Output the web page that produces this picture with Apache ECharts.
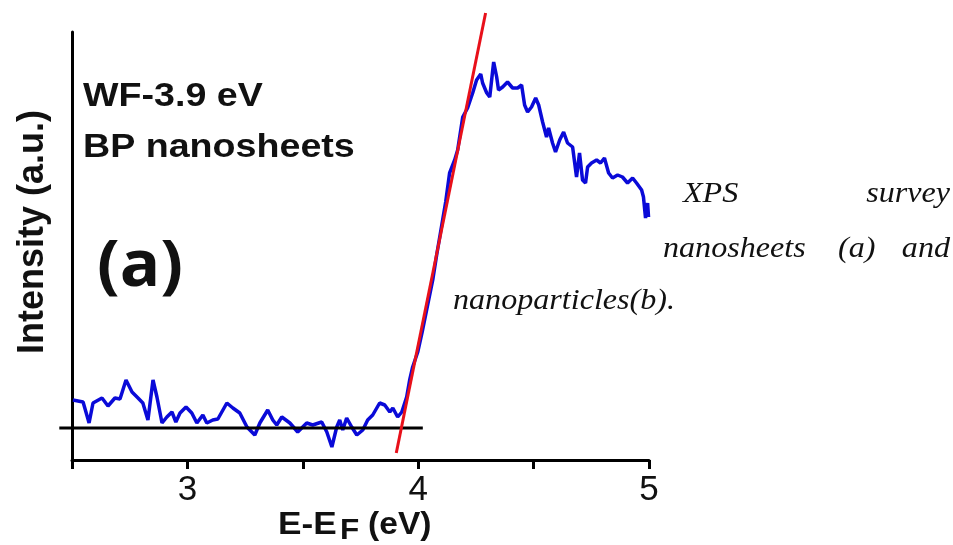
<!DOCTYPE html>
<html>
<head>
<meta charset="utf-8">
<script src="https://cdn.jsdelivr.net/npm/echarts@6/dist/echarts.min.js"></script>
<style>
  html, body { margin: 0; padding: 0; background: #fff; }
  #chart { width: 953px; height: 545px; }
</style>
</head>
<body>
<div id="chart"></div>
<script>
// UPS secondary-edge spectrum of BP nanosheets (E - E_F in eV, intensity in a.u.)
const energy = [
  2.504, 2.548, 2.574, 2.591, 2.630, 2.656, 2.686, 2.708, 2.734, 2.760,
  2.786, 2.807, 2.829, 2.851, 2.868, 2.890, 2.911, 2.933, 2.950, 2.968,
  2.994, 3.019, 3.041, 3.067, 3.084, 3.110, 3.132, 3.171, 3.197, 3.227,
  3.258, 3.292, 3.314, 3.348, 3.370, 3.387, 3.409, 3.444, 3.478, 3.517,
  3.543, 3.582, 3.604, 3.626, 3.647, 3.660, 3.673, 3.690, 3.712, 3.734,
  3.760, 3.781, 3.803, 3.833, 3.855, 3.877, 3.890, 3.911, 3.929, 3.950,
  3.963, 3.976, 3.998, 4.019, 4.041, 4.063, 4.080, 4.097, 4.119, 4.136,
  4.158, 4.171, 4.193, 4.214, 4.236, 4.253, 4.271, 4.279, 4.297, 4.310,
  4.323, 4.327, 4.340, 4.348, 4.366, 4.387, 4.409, 4.431, 4.448, 4.461,
  4.474, 4.491, 4.509, 4.522, 4.539, 4.556, 4.565, 4.582, 4.595, 4.613,
  4.630, 4.647, 4.669, 4.686, 4.699, 4.712, 4.725, 4.734, 4.751, 4.773,
  4.790, 4.807, 4.825, 4.842, 4.864, 4.885, 4.907, 4.929, 4.946, 4.968,
  4.976, 4.985, 4.994, 4.998
];
const intensity = [
  60, 58, 37, 57, 62, 54, 62, 61, 80, 68,
  62, 57, 40, 80, 63, 37, 43, 48, 38, 47,
  53, 47, 37, 45, 37, 40, 41, 57, 52, 47,
  33, 25, 37, 50, 40, 35, 43, 37, 28, 37,
  35, 38, 28, 13, 33, 40, 30, 42, 33, 25,
  30, 40, 45, 57, 55, 48, 52, 43, 48, 63,
  80, 93, 108, 130, 155, 180, 205, 228, 258, 287,
  300, 310, 343, 352, 367, 380, 386, 377, 367, 363,
  390, 398, 383, 370, 373, 378, 372, 372, 375, 355,
  348, 353, 362, 355, 338, 323, 332, 317, 308, 320,
  328, 317, 313, 283, 307, 280, 277, 293, 297, 300,
  297, 302, 287, 282, 285, 283, 277, 282, 277, 270,
  263, 242, 257, 243
];

// linear fit of the leading edge and the background level
const fitEnergy = [3.905, 4.292];
const fitIntensity = [7, 447];
const baseEnergy = [2.445, 4.02];
const baseIntensity = [32, 32];

const xTicks = [3, 4, 5];

const pairs = (xs, ys) => xs.map((x, i) => [x, ys[i]]);

const sans = '"Liberation Sans", Arial, sans-serif';
const serif = '"Liberation Serif", "Times New Roman", serif';
const ink = '#111';

function label(text, x, y, font, opts) {
  const o = opts || {};
  return {
    type: 'text', x: x, y: y,
    scaleX: o.scaleX || 1,
    rotation: o.rotation || 0,
    style: {
      text: text, font: font, fill: ink,
      textAlign: o.align || 'left', align: o.align || 'left',
      textVerticalAlign: 'middle', verticalAlign: 'middle'
    }
  };
}

// straight segment through data points, drawn without clipping to the grid
function segmentSeries(xs, ys, color, z) {
  return {
    type: 'custom', z: z, clip: false,
    data: [0],
    renderItem: (params, api) => {
      const a = api.coord([xs[0], ys[0]]);
      const b = api.coord([xs[1], ys[1]]);
      return {
        type: 'line',
        shape: { x1: a[0], y1: a[1], x2: b[0], y2: b[1] },
        style: { stroke: color, lineWidth: 3 }
      };
    }
  };
}

const chart = echarts.init(document.getElementById('chart'));
chart.setOption({
  animation: false,
  backgroundColor: '#fff',
  grid: { left: 72, right: 304, top: 32, bottom: 85 },
  xAxis: {
    type: 'value', min: 2.5, max: 5, interval: 0.5,
    axisLine: { lineStyle: { color: '#000', width: 3 } },
    axisTick: { length: 9, lineStyle: { color: '#000', width: 3 } },
    axisLabel: {
      margin: 13, fontSize: 35, fontFamily: sans, color: ink,
      showMaxLabel: true,
      formatter: v => (xTicks.indexOf(v) >= 0 ? String(v) : '')
    },
    splitLine: { show: false }
  },
  yAxis: {
    type: 'value', min: 0, max: 428,
    axisLine: { show: true, lineStyle: { color: '#000', width: 3 } },
    axisTick: { show: false },
    axisLabel: { show: false },
    splitLine: { show: false }
  },
  series: [
    {
      type: 'line', data: pairs(energy, intensity), symbol: 'none',
      lineStyle: { color: '#0a0ad8', width: 3.5 }, z: 2
    },
    segmentSeries(baseEnergy, baseIntensity, '#000', 3),
    segmentSeries(fitEnergy, fitIntensity, '#e8101a', 4)
  ],
  graphic: [
    label('WF-3.9 eV', 83, 97, 'bold 33px ' + sans, { scaleX: 1.14 }),
    label('BP nanosheets', 83, 148, 'bold 33px ' + sans, { scaleX: 1.14 }),
    label('(a)', 97, 268, 'bold 64px "Open Sans", ' + sans, { scaleX: 1.05 }),
    label('Intensity (a.u.)', 33, 232, 'bold 36px ' + sans, { align: 'center', rotation: Math.PI / 2 }),
    label('E-E', 278, 525, 'bold 32px ' + sans, { scaleX: 1.1 }),
    label('F', 340, 531, 'bold 30px ' + sans, { scaleX: 1.05 }),
    label('(eV)', 368, 525, 'bold 32px ' + sans, { scaleX: 1.05 }),
    label('XPS', 683, 194, 'italic 30px ' + serif, { scaleX: 1.07 }),
    label('survey', 950, 194, 'italic 30px ' + serif, { scaleX: 1.07, align: 'right' }),
    label('nanosheets', 663, 249, 'italic 30px ' + serif, { scaleX: 1.07 }),
    label('(a)', 838, 249, 'italic 30px ' + serif, { scaleX: 1.07 }),
    label('and', 950, 249, 'italic 30px ' + serif, { scaleX: 1.07, align: 'right' }),
    label('nanoparticles(b).', 453, 301, 'italic 30px ' + serif, { scaleX: 1.07 })
  ]
});
</script>
</body>
</html>
